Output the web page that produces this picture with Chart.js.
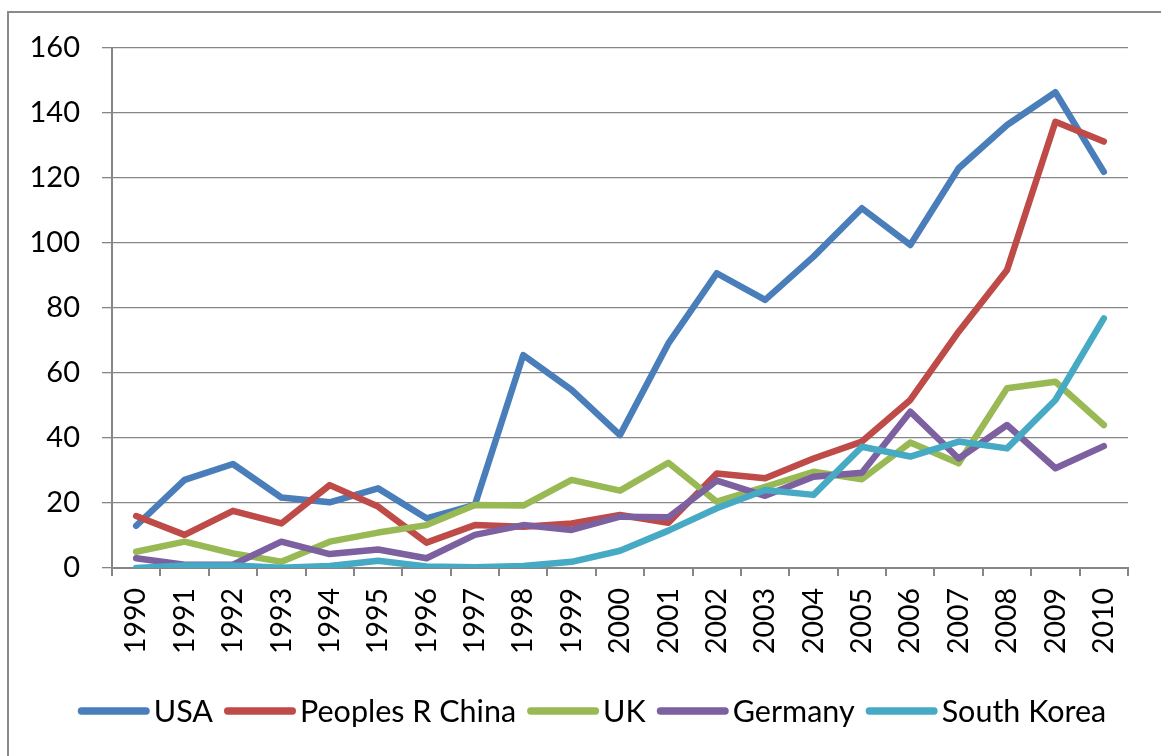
<!DOCTYPE html>
<html>
<head>
<meta charset="utf-8">
<script src="https://cdn.jsdelivr.net/npm/chart.js@4.4.1/dist/chart.umd.min.js"></script>
<style>
  html, body { margin: 0; padding: 0; background: #fff; overflow: hidden; }
  #wrap { position: relative; width: 1161px; height: 756px; }
  #frame { position: absolute; left: 7px; top: 11px; width: 1200px; height: 800px; border: 2px solid #8a8a8a; box-sizing: border-box; }
  canvas { position: absolute; left: 0; top: 0; }
</style>
</head>
<body>
<div id="wrap">
  <div id="frame"></div>
  <canvas id="c" width="1161" height="756"></canvas>
</div>
<script>
const years = ["1990","1991","1992","1993","1994","1995","1996","1997","1998","1999","2000","2001","2002","2003","2004","2005","2006","2007","2008","2009","2010"];
const seriesNames = ["USA", "Peoples R China", "UK", "Germany", "South Korea"];
const usa     = [13.0, 27.1, 32.0, 21.7, 20.2, 24.5, 15.3, 19.4, 65.5, 54.8, 40.9, 69.1, 90.7, 82.5, 95.8, 110.7, 99.4, 123.0, 136.3, 146.4, 121.9];
const china   = [16.0, 10.2, 17.6, 13.7, 25.5, 18.9, 7.8, 13.2, 12.7, 13.7, 16.3, 13.9, 29.1, 27.6, 33.7, 38.9, 51.7, 72.7, 91.7, 137.3, 131.2];
const uk      = [5.0, 8.1, 4.5, 1.9, 8.1, 10.9, 13.2, 19.4, 19.2, 27.1, 23.8, 32.4, 20.4, 25.0, 29.6, 27.3, 38.6, 32.2, 55.3, 57.3, 44.0];
const germany = [3.0, 1.0, 1.0, 8.1, 4.3, 5.7, 3.0, 10.2, 13.2, 11.7, 15.8, 15.6, 26.9, 22.2, 28.1, 29.3, 48.1, 33.7, 44.0, 30.7, 37.5];
const korea   = [0.0, 0.8, 0.8, 0.1, 0.6, 2.2, 0.5, 0.2, 0.6, 1.9, 5.3, 11.5, 18.4, 24.0, 22.5, 37.3, 34.3, 38.9, 36.8, 51.7, 76.8];
const yTicks  = [0, 20, 40, 60, 80, 100, 120, 140, 160];

const colors = ["#4A7EBB", "#BE4B48", "#98B954", "#7D60A0", "#46AAC5"];
const values = [usa, china, uk, germany, korea];
const FONT = "Lato";
const AXIS = "#868686";

const datasets = values.map((v, i) => ({
  label: seriesNames[i],
  data: v,
  borderColor: colors[i],
  backgroundColor: colors[i],
  borderWidth: 6.5,
  pointRadius: 0,
  tension: 0,
  borderJoinStyle: "round",
  borderCapStyle: "round",
  order: values.length - i
}));

const legendPlugin = {
  id: "customLegend",
  afterDraw(chart) {
    const ctx = chart.ctx;
    const ds = chart.data.datasets;
    ctx.save();
    ctx.font = "30.5px " + FONT;
    const lineLen = 72, gap = 4, spacing = 11, lw = 7.3;
    const widths = ds.map(d => ctx.measureText(d.label).width);
    let total = 0;
    widths.forEach((w, i) => { total += lineLen + gap + w + (i < ds.length - 1 ? spacing : 0); });
    let x = 592 - total / 2;
    const y = 711;
    ds.forEach((d, i) => {
      ctx.strokeStyle = d.borderColor;
      ctx.lineWidth = lw;
      ctx.lineCap = "round";
      ctx.beginPath();
      ctx.moveTo(x + lw / 2, y);
      ctx.lineTo(x + lineLen - lw / 2, y);
      ctx.stroke();
      ctx.fillStyle = "#000";
      ctx.textBaseline = "middle";
      ctx.textAlign = "left";
      ctx.fillText(d.label, x + lineLen + gap, y + 1);
      x += lineLen + gap + widths[i] + spacing;
    });
    ctx.restore();
  }
};

function build() {
  new Chart(document.getElementById("c"), {
    type: "line",
    data: { labels: years, datasets },
    plugins: [legendPlugin],
    options: {
      responsive: false,
      animation: false,
      devicePixelRatio: 1,
      layout: { padding: { top: 48, right: 33, bottom: 0, left: 0 } },
      plugins: { legend: { display: false }, tooltip: { enabled: false } },
      scales: {
        x: {
          type: "category",
          offset: true,
          afterFit(s) { s.height = 188; },
          grid: { display: true, drawOnChartArea: false, offset: true, tickLength: 8, color: AXIS, lineWidth: 2 },
          border: { display: true, color: AXIS, width: 2 },
          ticks: {
            autoSkip: false, minRotation: 90, maxRotation: 90, padding: 12,
            color: "#000", font: { family: FONT, size: 28.5 }
          }
        },
        y: {
          min: 0, max: 160,
          afterFit(s) { s.width = 112; },
          afterBuildTicks(s) { s.ticks = yTicks.map(v => ({ value: v })); },
          grid: { color: AXIS, lineWidth: 1.3, tickLength: 10 },
          border: { display: true, color: AXIS, width: 2 },
          ticks: { stepSize: 20, padding: 22, color: "#000", font: { family: FONT, size: 29 } }
        }
      }
    }
  });
}
if (document.fonts && document.fonts.load) {
  document.fonts.load("30px " + FONT).then(build, build);
} else { build(); }
</script>
</body>
</html>
